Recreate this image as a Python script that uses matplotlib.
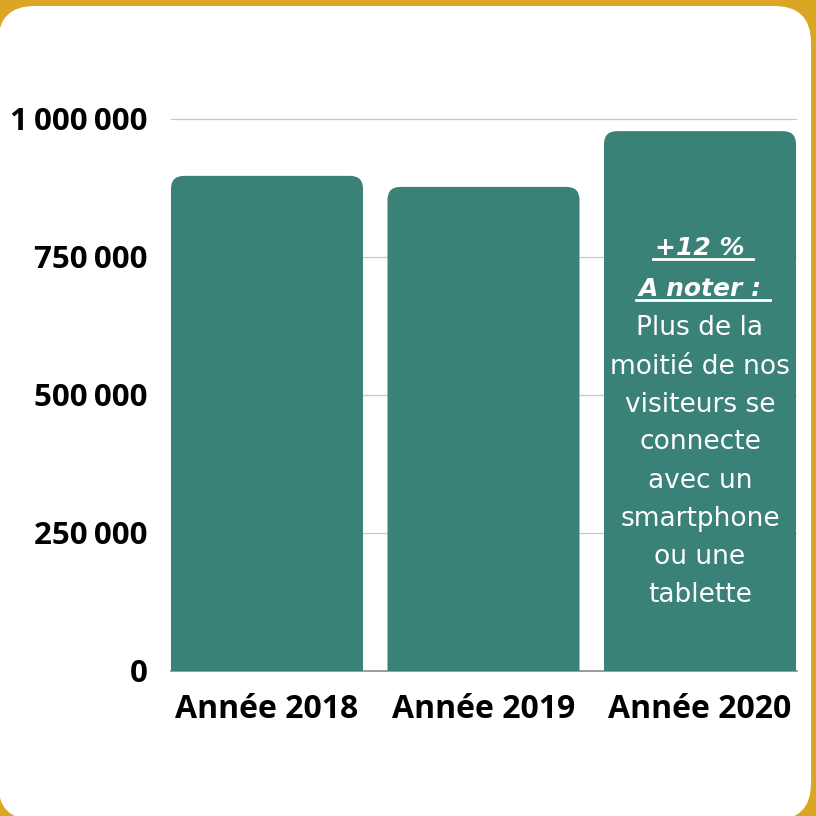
import matplotlib
matplotlib.use("Agg")
import matplotlib.pyplot as plt
from matplotlib.patches import FancyBboxPatch
from matplotlib.lines import Line2D

categories = ["Année 2018", "Année 2019", "Année 2020"]
visitors = [897000, 877000, 978000]
yticks = [0, 250000, 500000, 750000, 1000000]
ytick_labels = ["0", "250\u2009000", "500\u2009000", "750\u2009000", "1\u2009000\u2009000"]
note_head = ["+12 %", "A noter :"]
note_body = ["Plus de la", "moitié de nos", "visiteurs se", "connecte", "avec un",
             "smartphone", "ou une", "tablette"]

W = H = 816
GOLD = "#DBA624"
TEAL = "#3A8278"

fig = plt.figure(figsize=(8.16, 8.16), dpi=100)
fig.patch.set_facecolor(GOLD)

# white rounded card
card = FancyBboxPatch((-2 / W, -4 / H), 813 / W, (816 - 6 + 4) / H,
                      boxstyle="round,pad=0,rounding_size=0.045",
                      transform=fig.transFigure, facecolor="white", edgecolor="none",
                      zorder=-10)
fig.patches.append(card)

# axes geometry (pixels)
ax_l, ax_r, ax_b, ax_t = 171, 797, 671, 95
ax = fig.add_axes([ax_l / W, 1 - ax_b / H, (ax_r - ax_l) / W, (ax_b - ax_t) / H])
ax.set_facecolor("none")
ax.set_zorder(5)

pitch = 216.5
px_per_unit_y = 552 / 1e6
ax.set_xlim((ax_l - 267) / pitch, (ax_r - 267) / pitch)
ax.set_ylim(0, (ax_b - ax_t) / px_per_unit_y)

# gridlines
for t in yticks[1:]:
    ax.axhline(t, color="#c8c8c8", lw=0.9, zorder=0)
ax.axhline(0, color="#8a8a8a", lw=1.2, zorder=1, clip_on=False)

bw = 192 / pitch
r_px = 13
for i, v in enumerate(visitors):
    p = FancyBboxPatch((i - bw / 2, -60000), bw, v + 60000,
                       boxstyle=f"round,pad=0,rounding_size={r_px / pitch}",
                       mutation_aspect=pitch / px_per_unit_y,
                       facecolor=TEAL, edgecolor="none", zorder=2)
    ax.add_patch(p)

for s in ax.spines.values():
    s.set_visible(False)

ax.set_xticks(range(len(categories)))
ax.set_xticklabels(categories, fontfamily="Open Sans", fontweight="bold", fontsize=23)
ax.set_yticks(yticks)
ax.set_yticklabels(ytick_labels, fontfamily=["Open Sans", "DejaVu Sans"], fontweight="bold", fontsize=22.5)
ax.tick_params(axis="both", length=0)
ax.tick_params(axis="y", pad=17)
ax.tick_params(axis="x", pad=16)

# annotation text inside 2020 bar
cx = 2
def ypix(py):
    return (ax_b - py) * 1e6 / 552

head_y = [248, 289]
heads = []
for s, py in zip(note_head, head_y):
    t = ax.text(cx, ypix(py), s, color="white", ha="center", va="center",
                fontfamily="DejaVu Sans", fontweight="bold", fontstyle="italic",
                fontsize=18, zorder=3)
    heads.append(t)

body_y = [328, 367, 405, 442, 481, 519, 557, 595]
for s, py in zip(note_body, body_y):
    ax.text(cx, ypix(py), s, color="white", ha="center", va="center",
            fontfamily="DejaVu Sans", fontsize=19, zorder=3)

# underlines for heading lines
fig.canvas.draw()
inv = fig.transFigure.inverted()
for t in heads:
    bb = t.get_window_extent()
    x0, y0 = inv.transform((bb.x0 - 2, bb.y0 + 1))
    x1, _ = inv.transform((bb.x1 + 8, bb.y0 + 1))
    fig.lines.append(Line2D([x0, x1], [y0, y0], transform=fig.transFigure,
                            color="white", lw=2, zorder=20))

fig.savefig("out.png", dpi=100, facecolor=fig.get_facecolor())
